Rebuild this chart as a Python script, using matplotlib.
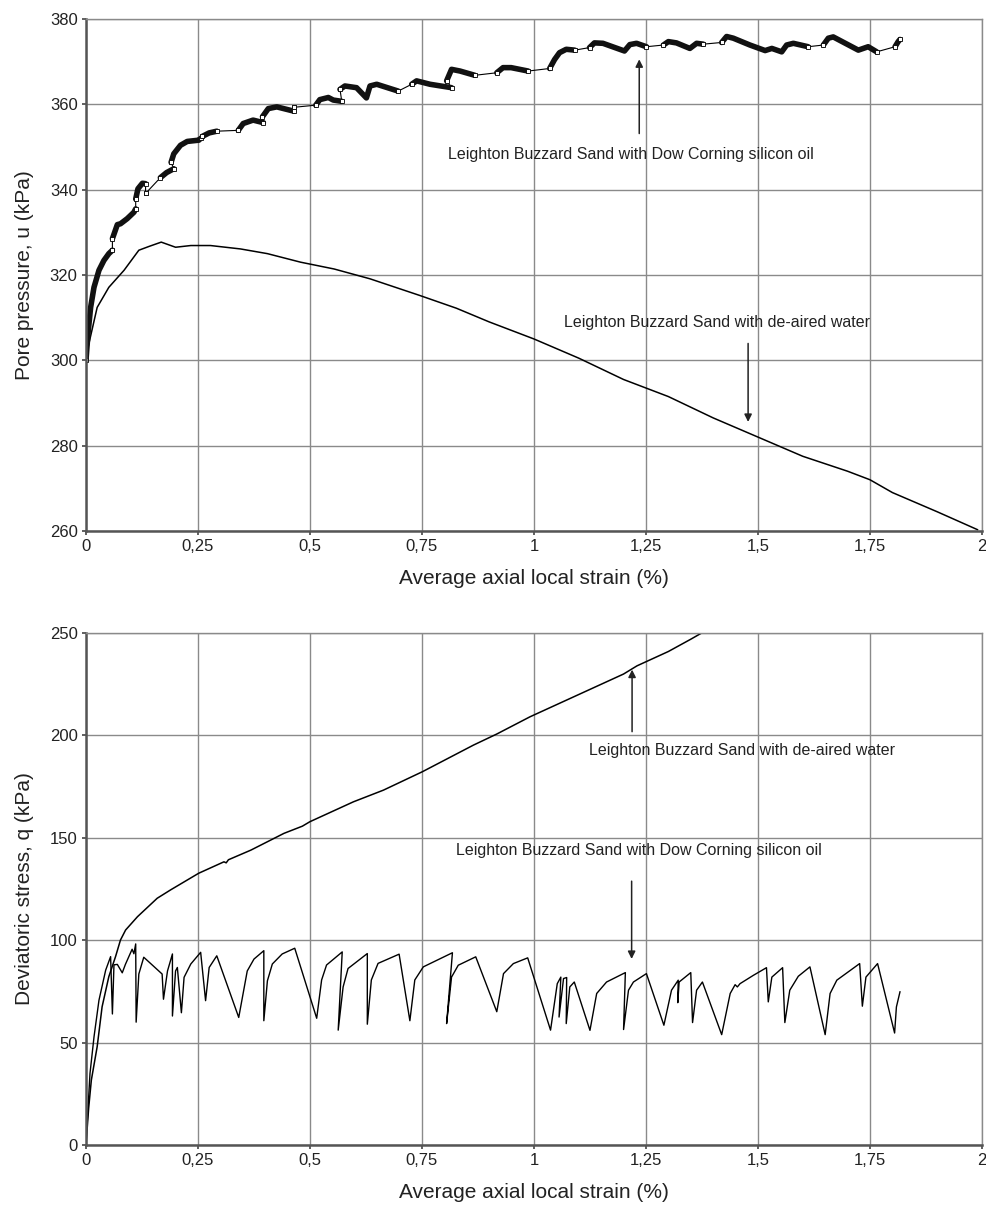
import matplotlib
matplotlib.use("Agg")
import matplotlib.pyplot as plt
from matplotlib.ticker import FixedLocator, FuncFormatter

plt.rcParams['font.family'] = ['Liberation Sans', 'DejaVu Sans']

# ---- top panel: pore pressure, de-aired water
water_u_x = [0, 0.003, 0.025, 0.051, 0.085, 0.118, 0.141, 0.168, 0.2, 0.234, 0.278, 0.345,
             0.405, 0.479, 0.554, 0.634, 0.745, 0.827, 0.9, 1.0, 1.1, 1.2, 1.3, 1.4, 1.5,
             1.6, 1.7, 1.75, 1.8, 1.9, 1.99]
water_u_y = [300, 302.3, 312.4, 317.1, 321.1, 325.8, 326.7, 327.7, 326.5, 326.9, 326.9, 326.1,
             325, 323, 321.4, 319.1, 315.2, 312.2, 309, 305, 300.5, 295.5, 291.5, 286.5, 282,
             277.5, 274, 272, 269, 264.5, 260.3]

# ---- top panel: pore pressure, silicon oil (dense runs of logged points)
oil_u_runs = [
    [(0, 300), (0.0045, 306.2), (0.0104, 312.4), (0.0179, 317.1), (0.029, 321.1), (0.040, 323.4),
     (0.051, 325), (0.059, 325.8)],
    [(0.059, 328.5), (0.07, 331.8), (0.077, 332), (0.092, 333.2), (0.107, 334.7), (0.111, 335.5)],
    [(0.111, 337.8), (0.116, 340.2), (0.126, 341.5), (0.133, 341.4)],
    [(0.133, 339.1)],
    [(0.166, 342.8), (0.18, 344), (0.196, 344.9)],
    [(0.19, 346.4), (0.196, 348.4), (0.211, 350.4), (0.226, 351.3), (0.252, 351.6), (0.256, 352)],
    [(0.26, 352.5), (0.275, 353.3), (0.292, 353.7)],
    [(0.34, 353.9), (0.351, 355.5), (0.373, 356.3), (0.396, 355.7)],
    [(0.394, 357.1), (0.407, 359), (0.426, 359.4), (0.445, 358.9), (0.464, 358.4)],
    [(0.464, 359.3)],
    [(0.513, 359.8), (0.522, 361.1), (0.541, 361.6), (0.552, 361), (0.571, 360.7)],
    [(0.567, 363.5), (0.578, 364.3), (0.604, 363.9), (0.626, 361.5), (0.634, 364.3),
     (0.649, 364.7), (0.697, 363.1)],
    [(0.727, 364.7), (0.738, 365.5), (0.768, 364.7), (0.816, 363.9)],
    [(0.805, 365.5), (0.816, 368.2), (0.835, 367.8), (0.868, 366.8)],
    [(0.917, 367.4), (0.931, 368.6), (0.949, 368.6), (0.987, 367.8)],
    [(1.035, 368.4), (1.046, 370.5), (1.057, 372.1), (1.072, 372.9), (1.091, 372.7)],
    [(1.124, 373.3), (1.135, 374.4), (1.154, 374.3), (1.202, 372.5), (1.214, 374),
     (1.229, 374.3), (1.251, 373.5)],
    [(1.289, 373.9), (1.3, 374.7), (1.318, 374.4), (1.348, 373.1), (1.363, 374.3), (1.378, 374.1)],
    [(1.419, 374.5), (1.43, 375.9), (1.445, 375.5), (1.482, 373.9), (1.516, 372.6), (1.531, 373.1),
     (1.553, 372.3), (1.564, 373.9), (1.579, 374.3), (1.612, 373.5)],
    [(1.646, 373.9), (1.657, 375.5), (1.668, 375.8), (1.724, 372.7), (1.746, 373.5), (1.765, 372.3)],
    [(1.806, 373.5), (1.813, 374.7), (1.817, 375.2)],
]

# ---- bottom panel: deviatoric stress
water_q_x = [0, 0.006, 0.012, 0.025, 0.036, 0.051, 0.066, 0.077, 0.0885, 0.115, 0.159, 0.189,
             0.2515, 0.308, 0.313, 0.318, 0.368, 0.442, 0.483, 0.5, 0.597, 0.664, 0.751, 0.865,
             0.917, 0.991, 1.1, 1.2, 1.23, 1.25, 1.3, 1.35, 1.39]
water_q_y = [0, 18, 31.7, 48, 67.5, 82.2, 92, 100.1, 105, 111.5, 120.5, 124.6,
             132.7, 138.3, 137.8, 139.3, 144, 152.2, 155.7, 157.9, 167.6, 173.3, 182.3, 195.3,
             200.7, 209.1, 220, 230, 234, 236, 241, 247, 252]

oil_q_x = [0, 0.009, 0.018, 0.029, 0.044, 0.055, 0.059, 0.0625, 0.07, 0.081, 0.088, 0.103, 0.107,
           0.111, 0.112, 0.118, 0.129, 0.17, 0.173, 0.182, 0.193, 0.193, 0.2, 0.204, 0.213, 0.219,
           0.234, 0.256, 0.267, 0.275, 0.292, 0.341, 0.36, 0.375, 0.397, 0.397, 0.405, 0.416,
           0.438, 0.466, 0.515, 0.526, 0.537, 0.572, 0.563, 0.574, 0.585, 0.628, 0.628, 0.637,
           0.652, 0.699, 0.723, 0.734, 0.753, 0.818, 0.805, 0.816, 0.831, 0.87, 0.917, 0.932,
           0.954, 0.986, 1.037, 1.052, 1.06, 1.056, 1.066, 1.073, 1.072, 1.08, 1.09, 1.125, 1.14,
           1.162, 1.204, 1.2, 1.211, 1.222, 1.251, 1.29, 1.307, 1.322, 1.321, 1.324, 1.35, 1.354,
           1.363, 1.376, 1.419, 1.438, 1.449, 1.454, 1.46, 1.49, 1.519, 1.523, 1.531, 1.555, 1.56,
           1.571, 1.59, 1.616, 1.65, 1.661, 1.676, 1.727, 1.733, 1.741, 1.767, 1.805, 1.809, 1.817]
oil_q_y = [0, 35, 52.9, 70.7, 85.4, 92, 64, 88, 88.2, 84.1, 88.2, 95.6, 93.4,
           98.2, 60, 83.5, 91.7, 83.5, 71.2, 85, 93.3, 63, 85, 86.7, 64.6, 81.9,
           88.4, 94.1, 70.5, 86.7, 92.4, 62.3, 85, 90.8, 94.9, 60.7, 80.2, 88.4,
           93.3, 96.1, 61.9, 80.6, 87.9, 94.3, 56.1, 77.2, 86.2, 93.5, 59, 80.6,
           88.7, 93.2, 60.7, 80.6, 87, 93.9, 59.3, 82, 87.8, 91.9, 65.1, 83.7,
           88.6, 91.4, 56.1, 78.8, 82, 62.5, 81.3, 81.8, 59.3, 77.2, 79.6, 56, 74,
           79.6, 84.2, 56.4, 75.6, 79.6, 83.7, 58.5, 75.6, 80.5, 69.5, 79.6, 84.2, 59.8,
           75.6, 79.6, 53.9, 74, 78.3, 77.2, 78.8, 82.9, 86.6, 69.9, 82, 86.6, 59.8,
           75.6, 82.4, 87, 53.9, 74, 80.5, 88.6, 67.8, 82, 88.6, 54.7, 67.4, 74.8]

x_ticks = [0, 0.25, 0.5, 0.75, 1, 1.25, 1.5, 1.75, 2]
x_title = "Average axial local strain (%)"
label_oil = "Leighton Buzzard Sand with Dow Corning silicon oil"
label_water = "Leighton Buzzard Sand with de-aired water"

TEXT = "#222222"


def comma(v, pos=None):
    return f"{v:g}".replace(".", ",")


def style_axes(ax, ylim, ystep):
    ax.set_xlim(0, 2)
    ax.set_ylim(*ylim)
    ax.xaxis.set_major_locator(FixedLocator(x_ticks))
    ax.yaxis.set_major_locator(FixedLocator(list(range(ylim[0], ylim[1] + 1, ystep))))
    ax.xaxis.set_major_formatter(FuncFormatter(comma))
    ax.grid(True, color="#8a8a8a", linewidth=1.0)
    ax.set_axisbelow(True)
    for side in ("top", "right"):
        ax.spines[side].set_color("#8a8a8a")
        ax.spines[side].set_linewidth(1.0)
    for side in ("left", "bottom"):
        ax.spines[side].set_color("#555555")
        ax.spines[side].set_linewidth(1.8)
    ax.tick_params(direction="out", length=3, width=1.2, color="#444444",
                   labelsize=12, labelcolor=TEXT, pad=3)
    ax.set_xlabel(x_title, fontsize=15, color=TEXT, va="top")
    ax.xaxis.set_label_coords(0.5, -0.074)


fig = plt.figure(figsize=(9.87, 12.10), dpi=100)
ax1 = fig.add_axes([0.0871, 0.5612, 0.9078, 0.4231])
ax2 = fig.add_axes([0.0871, 0.0537, 0.9078, 0.4231])

arrow = dict(arrowstyle="-|>", color=TEXT, lw=1.1, mutation_scale=11)

# Top: pore pressure
style_axes(ax1, (260, 380), 20)
ax1.plot(water_u_x, water_u_y, color="black", linewidth=1.1)
all_x = [p[0] for run in oil_u_runs for p in run]
all_y = [p[1] for run in oil_u_runs for p in run]
ax1.plot(all_x, all_y, color="black", linewidth=0.8)
for run in oil_u_runs:
    if len(run) > 1:
        ax1.plot([p[0] for p in run], [p[1] for p in run], color="#111111",
                 linewidth=4.0, solid_capstyle="round", solid_joinstyle="round")
    ends = [run[0], run[-1]]
    ax1.plot([p[0] for p in ends], [p[1] for p in ends], linestyle="", marker="s",
             markersize=2.6, markerfacecolor="white", markeredgecolor="black", markeredgewidth=0.6)
ax1.set_ylabel("Pore pressure, u (kPa)", fontsize=15, color=TEXT)
ax1.yaxis.set_label_coords(-0.058, 0.5)

ax1.annotate("", xy=(1.235, 371.2), xytext=(1.235, 352.5), arrowprops=arrow)
ax1.text(1.2165, 348.3, label_oil, ha="center", va="center", fontsize=11.5, color=TEXT)
ax1.annotate("", xy=(1.478, 284.9), xytext=(1.478, 304.6), arrowprops=arrow)
ax1.text(1.408, 308.8, label_water, ha="center", va="center", fontsize=11.5, color=TEXT)

# Bottom: deviatoric stress
style_axes(ax2, (0, 250), 50)
ax2.plot(water_q_x, water_q_y, color="black", linewidth=1.1)
ax2.plot(oil_q_x, oil_q_y, color="black", linewidth=1.0)
ax2.set_ylabel("Deviatoric stress, q (kPa)", fontsize=15, color=TEXT)
ax2.yaxis.set_label_coords(-0.058, 0.5)

ax2.annotate("", xy=(1.219, 233.5), xytext=(1.219, 200.5), arrowprops=arrow)
ax2.text(1.464, 192.8, label_water, ha="center", va="center", fontsize=11.5, color=TEXT)
ax2.annotate("", xy=(1.218, 89.5), xytext=(1.218, 130.2), arrowprops=arrow)
ax2.text(1.234, 144, label_oil, ha="center", va="center", fontsize=11.5, color=TEXT)

fig.savefig("out.png", dpi=100)
